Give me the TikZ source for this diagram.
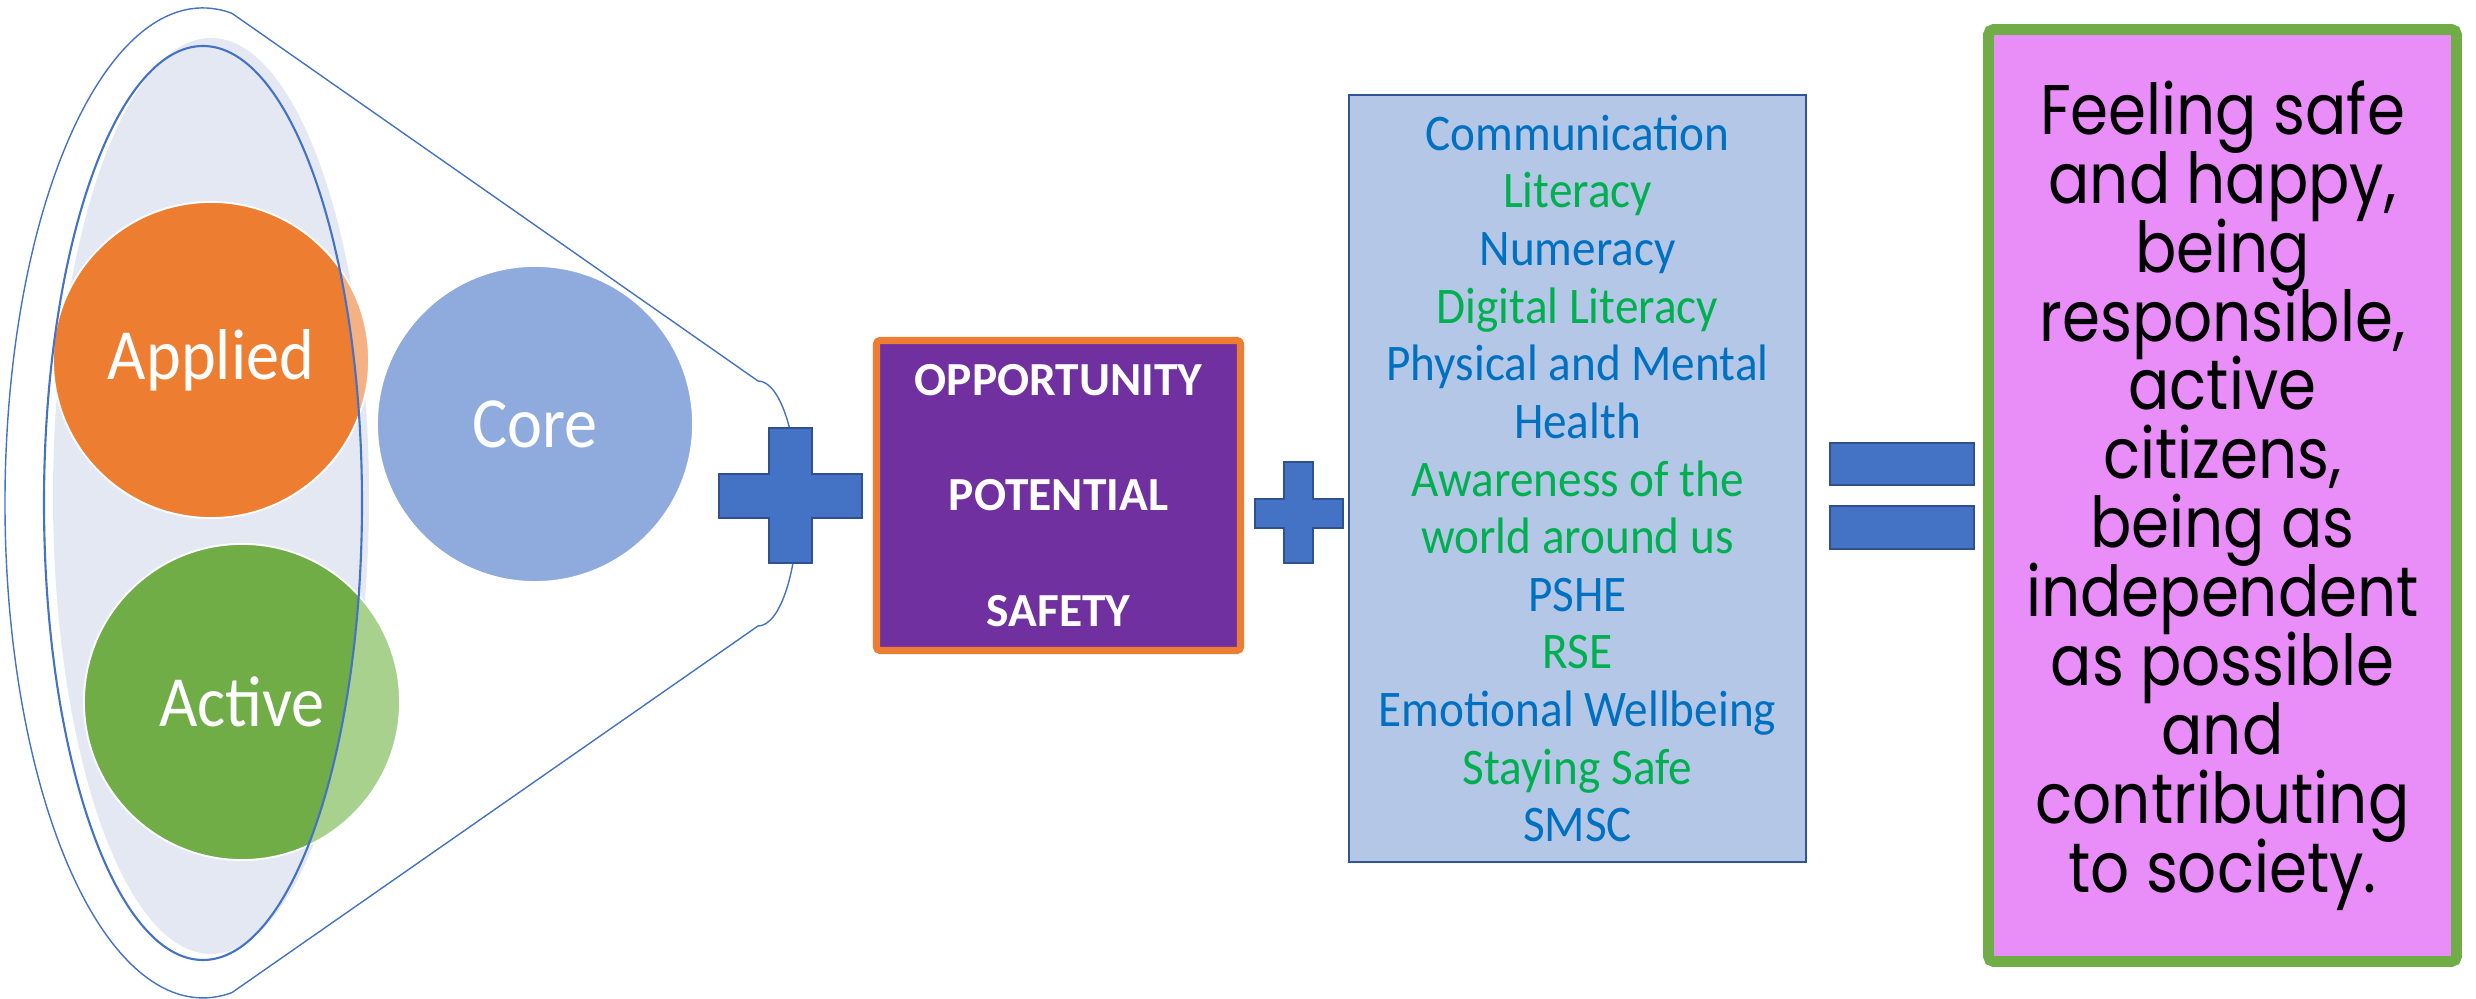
\documentclass[tikz,border=0pt]{standalone}
\usepackage{fontspec}
\setmainfont{Carlito}
\newfontfamily\narrowfont[FakeStretch=0.92]{Carlito}
\newfontfamily\handfont[FakeStretch=0.87]{Poppins}
\newcommand\tightlines{\setlength{\lineskiplimit}{-20pt}}
\usepackage{tikz}
\definecolor{ringblue}{HTML}{4472C4}
\definecolor{haze}{HTML}{E3E8F3}
\definecolor{orangefull}{HTML}{ED7D31}
\definecolor{orangelight}{HTML}{F4B183}
\definecolor{greenfull}{HTML}{70AD47}
\definecolor{greenlight}{HTML}{A9D18E}
\definecolor{coreblue}{HTML}{8FAADC}
\definecolor{signblue}{HTML}{4472C4}
\definecolor{signedge}{HTML}{2F528F}
\definecolor{violetfill}{HTML}{7030A0}
\definecolor{listfill}{HTML}{B4C7E7}
\definecolor{listedge}{HTML}{2F5597}
\definecolor{listblue}{HTML}{0070C0}
\definecolor{listgreen}{HTML}{00B050}
\definecolor{pinkfill}{HTML}{E98EF9}

\begin{document}
\begin{tikzpicture}[
	disc/.style={shape=circle,minimum size=3.16cm,inner sep=0pt,draw=white,line width=0.5pt},
	disclabel/.style={text=white,font=\narrowfont\fontsize{20.5}{24}\selectfont},
	signbar/.style={fill=signblue,draw=signedge,line width=0.6pt}]
	\useasboundingbox (0,0) rectangle (24.76,9.99);

	% funnel with the three strands
	\fill[haze] (2.11,5.03) ellipse [x radius=1.58,y radius=4.58];
	\draw[ringblue,line width=0.4pt] (2.319,9.857) arc [start angle=81.6,end angle=278.4,x radius=1.98,y radius=4.95]
		-- (7.58,3.73) arc [start angle=-90,end angle=90,x radius=0.40,y radius=1.225] -- cycle;
	\draw (2.11,6.39) node (applied) [disc,fill=orangelight] {};
	\draw (2.42,2.97) node (active) [disc,fill=greenlight] {};
	\draw (5.35,5.75) node (core) [disc,fill=coreblue] {};
	\begin{scope}
		\clip (2.03,4.96) ellipse [x radius=1.59,y radius=4.57];
		\filldraw[fill=orangefull,draw=white,line width=0.5pt] (applied.center) circle (1.58);
		\filldraw[fill=greenfull,draw=white,line width=0.5pt] (active.center) circle (1.58);
	\end{scope}
	\draw[ringblue,line width=0.6pt] (2.03,4.96) ellipse [x radius=1.59,y radius=4.57];
	\node (appliedtext) [disclabel] at (applied.center) {Applied};
	\node (activetext) [disclabel] at (active.center) {Active};
	\node (coretext) [disclabel] at (core.center) {Core};

	% plus
	\draw[signbar] (7.69,5.71) -- (8.12,5.71) -- (8.12,5.25) -- (8.62,5.25) -- (8.62,4.81) -- (8.12,4.81)
		-- (8.12,4.36) -- (7.69,4.36) -- (7.69,4.81) -- (7.19,4.81) -- (7.19,5.25) -- (7.69,5.25) -- cycle;

	\draw (10.585,5.035) node (values) [fill=violetfill,draw=orangefull,line width=2pt,rounded corners=1pt,
		minimum width=3.64cm,minimum height=3.10cm,align=center,text=white,
		font=\bfseries\fontsize{13.5}{32.9}\selectfont] {OPPORTUNITY\\POTENTIAL\\SAFETY};

	% plus
	\draw[signbar] (12.84,5.37) -- (13.13,5.37) -- (13.13,5.00) -- (13.43,5.00) -- (13.43,4.71) -- (13.13,4.71)
		-- (13.13,4.36) -- (12.84,4.36) -- (12.84,4.71) -- (12.55,4.71) -- (12.55,5.00) -- (12.84,5.00) -- cycle;

	\draw (15.775,5.205) node (areas) [fill=listfill,draw=listedge,line width=0.6pt,
		minimum width=4.57cm,minimum height=7.67cm,align=center,
		font=\narrowfont\fontsize{14.6}{16.4}\selectfont] {%
		\textcolor{listblue}{Communication}\\
		\textcolor{listgreen}{Literacy}\\
		\textcolor{listblue}{Numeracy}\\
		\textcolor{listgreen}{Digital Literacy}\\
		\textcolor{listblue}{Physical and Mental}\\
		\textcolor{listblue}{Health}\\
		\textcolor{listgreen}{Awareness of the}\\
		\textcolor{listgreen}{world around us}\\
		\textcolor{listblue}{PSHE}\\
		\textcolor{listgreen}{RSE}\\
		\textcolor{listblue}{Emotional Wellbeing}\\
		\textcolor{listgreen}{Staying Safe}\\
		\textcolor{listblue}{SMSC}};

	% equals
	\draw[signbar] (18.30,5.56) rectangle (19.74,5.14);
	\draw[signbar] (18.30,4.93) rectangle (19.74,4.50);

	\draw (22.225,5.035) node (outcome) [fill=pinkfill,draw=greenfull,line width=3.1pt,rounded corners=1.5pt,
		minimum width=4.68cm,minimum height=9.32cm,align=center,
		font=\handfont\fontsize{20}{19.6}\selectfont\tightlines] {Feeling safe\\and happy,\\being\\responsible,\\active\\citizens,\\being as\\independent\\as possible\\and\\contributing\\to society.};
\end{tikzpicture}
\end{document}
